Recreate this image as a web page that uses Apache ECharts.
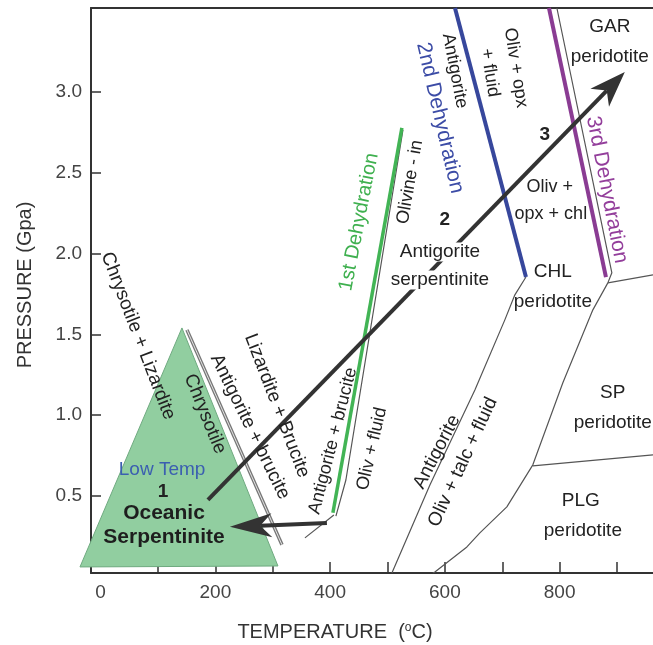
<!DOCTYPE html>
<html>
<head>
<meta charset="utf-8">
<script src="https://cdn.jsdelivr.net/npm/echarts@6/dist/echarts.min.js"></script>
<style>
html, body { margin: 0; padding: 0; background: #fff; }
#main { width: 653px; height: 645px; }
</style>
</head>
<body>
<div id="main"></div>
<script>
// phase boundaries, points are [temperature (C), pressure (GPa)]
var triangle = [[-35.9, 0.061], [141.8, 1.540], [309.1, 0.067]];
var chrysotileEdge = [[150.5, 1.528], [316.1, 0.198]];
var bruciteEdge = [[356.1, 0.241], [406.6, 0.383]];
var firstDehyd = [[404.9, 0.396], [525.1, 2.778]];
var olivineIn = [[410.1, 0.376], [427.5, 0.599], [526.9, 2.765]];
var secondDehyd = [[617.6, 3.52], [741.3, 1.855]];
var thirdDehyd = [[781.4, 3.52], [880.7, 1.855]];
var garEdge = [[795.2, 3.52], [891.0, 1.881], [884.0, 1.819]];
var spTop = [[884.0, 1.819], [962.7, 1.869]];
var plgCurve = [[884.0, 1.819], [857.9, 1.652], [805.6, 1.201], [753.3, 0.693], [708.0, 0.433],
                [661.0, 0.272], [638.4, 0.185], [582.6, 0.030], [579.0, 0.0235]];
var spPlg = [[753.3, 0.687], [962.7, 0.755]];
var talcLine = [[507.7, 0.0235], [573.9, 0.568], [652.3, 1.156], [704.5, 1.590], [722.0, 1.745], [741.3, 1.855]];

// arrows [T1, P1, T2, P2]
var arrows = [[187.1, 0.476, 913.6, 3.124], [394.4, 0.333, 225.4, 0.309]];

// annotations [text, T, P]
var labels = [
  ['Chrysotile + Lizardite', 65.3, 1.490],
  ['Chrysotile', 181.9, 1.008],
  ['Antigorite + brucite', 260.3, 0.928],
  ['Lizardite + Brucite', 307.3, 1.058],
  ['Antigorite + brucite', 404.9, 0.842],
  ['Oliv + fluid', 472.8, 0.792],
  ['1st Dehydration', 450.3, 2.196],
  ['Olivine - in', 539.2, 2.443],
  ['2', 600.0, 2.208],
  ['Antigorite', 591.3, 2.010],
  ['serpentinite', 591.3, 1.837],
  ['Antigorite', 617.4, 3.131],
  ['2nd Dehydration', 591.3, 2.840],
  ['Oliv + opx', 723.7, 3.150],
  ['+ fluid', 678.4, 3.119],
  ['3', 774.2, 2.735],
  ['Oliv +', 782.9, 2.414],
  ['opx + chl', 784.7, 2.247],
  ['3rd Dehydration', 882.2, 2.395],
  ['GAR', 887.5, 3.404],
  ['peridotite', 887.5, 3.218],
  ['CHL', 788.2, 1.886],
  ['peridotite', 788.2, 1.701],
  ['SP', 892.6, 1.138],
  ['peridotite', 892.6, 0.952],
  ['PLG', 837.0, 0.469],
  ['peridotite', 840.5, 0.284],
  ['Antigorite', 586.1, 0.773],
  ['Oliv + talc + fluid', 631.4, 0.710],
  ['Low Temp', 107.1, 0.660],
  ['1', 108.9, 0.525],
  ['Oceanic', 110.5, 0.395],
  ['Serpentinite', 110.5, 0.247]
];
// rotation (deg) and look for each annotation
var labelFmt = [
  [-69, 'n'], [-68, 'n'], [-64, 'n'], [-69, 'n'], [75.5, 's'], [77, 's'], [79, 'green'], [80, 's'],
  [0, 'b'], [0, 'w'], [0, 'w'], [-79, 's'], [-77, 'blue'], [-81, 's'], [-81, 's'], [0, 'b'],
  [0, 's'], [0, 's'], [-79, 'purple'], [0, 'n'], [0, 'n'], [0, 'n'], [0, 'n'], [0, 'n'], [0, 'n'],
  [0, 'n'], [0, 'n'], [62.5, 'n'], [65, 'n'], [0, 'low'], [0, 'b'], [0, 'big'], [0, 'big']
];

var FONT = '"Liberation Sans", Arial, Helvetica, sans-serif';
var looks = {
  n: { color: '#222', size: 19 },
  s: { color: '#222', size: 18 },
  b: { color: '#222', size: 19, weight: 'bold' },
  big: { color: '#1e1e1e', size: 21, weight: 'bold' },
  w: { color: '#222', size: 19, bg: '#fff' },
  green: { color: '#3fb04f', size: 20 },
  blue: { color: '#3c4ca6', size: 21 },
  purple: { color: '#933e9b', size: 21 },
  low: { color: '#3b5fb0', size: 19 }
};

var dom = document.getElementById('main');
var chart = echarts.init(dom);

function lineSeries(data, color, width, z) {
  return {
    type: 'line', data: data, symbol: 'none', silent: true, z: z || 2,
    lineStyle: { color: color, width: width }, animation: false
  };
}

var option = {
  animation: false,
  backgroundColor: '#fff',
  grid: { left: 91, right: 0, top: 8, bottom: 72, outerBoundsMode: 'none' },
  xAxis: [{
    type: 'value', min: -16.7, max: 962.7, position: 'bottom',
    axisLine: { onZero: false, lineStyle: { color: '#333', width: 2 } },
    axisTick: { inside: true, length: 11, customValues: [100, 200, 300, 400, 500, 600, 700, 800, 900],
      lineStyle: { color: '#333', width: 1.5 } },
    axisLabel: { customValues: [0, 200, 400, 600, 800], color: '#444', fontSize: 19, margin: 10, fontFamily: FONT },
    splitLine: { show: false }
  }, {
    type: 'value', min: -16.7, max: 962.7, position: 'top',
    axisLine: { show: true, onZero: false, lineStyle: { color: '#333', width: 2 } },
    axisTick: { show: false }, axisLabel: { show: false }, splitLine: { show: false }
  }],
  yAxis: {
    type: 'value', min: 0.0235, max: 3.52,
    axisLine: { show: true, onZero: false, lineStyle: { color: '#333', width: 2 } },
    axisTick: { inside: true, length: 10, customValues: [0.5, 1, 1.5, 2, 2.5, 3],
      lineStyle: { color: '#333', width: 1.5 } },
    axisLabel: { customValues: [0.5, 1, 1.5, 2, 2.5, 3], color: '#444', fontSize: 19, margin: 9, fontFamily: FONT,
      formatter: function (v) { return v.toFixed(1); } },
    splitLine: { show: false }
  },
  graphic: [{
    type: 'text', x: 25, y: 285, rotation: Math.PI / 2,
    style: { text: 'PRESSURE (Gpa)', fill: '#333', fontSize: 20, fontFamily: FONT, align: 'center', verticalAlign: 'middle' }
  }, {
    type: 'text', x: 335, y: 632,
    style: {
      text: 'TEMPERATURE  ({s|o}C)', fill: '#333', fontSize: 20, fontFamily: FONT, align: 'center', verticalAlign: 'middle',
      rich: { s: { fontSize: 12, fill: '#333', fontFamily: FONT, verticalAlign: 'top', padding: [0, 0, 8, 0] } }
    }
  }],
  series: [
    {
      type: 'custom', z: 1, silent: true, clip: false,
      data: [[0, 0]],
      renderItem: function (params, api) {
        return {
          type: 'polygon',
          shape: { points: triangle.map(function (p) { return api.coord(p); }) },
          style: { fill: '#91cea0', stroke: '#6faa80', lineWidth: 1 }
        };
      }
    },
    lineSeries(chrysotileEdge, '#777', 3.5),
    lineSeries(chrysotileEdge, '#fff', 0.8),
    lineSeries(bruciteEdge, '#555', 1.2),
    lineSeries(olivineIn, '#555', 1.2),
    lineSeries(firstDehyd, '#42b455', 3.5),
    lineSeries(talcLine, '#555', 1.2),
    lineSeries(plgCurve, '#555', 1.2),
    lineSeries(spPlg, '#555', 1.2),
    lineSeries(spTop, '#555', 1.2),
    lineSeries(garEdge, '#555', 1.2),
    lineSeries(secondDehyd, '#37479c', 4),
    lineSeries(thirdDehyd, '#8a3c93', 4),
    {
      type: 'custom', z: 3, silent: true, clip: false,
      data: arrows,
      encode: { x: [0, 2], y: [1, 3] },
      renderItem: function (params, api) {
        var a = api.coord([api.value(0), api.value(1)]);
        var b = api.coord([api.value(2), api.value(3)]);
        var dx = b[0] - a[0], dy = b[1] - a[1];
        var len = Math.sqrt(dx * dx + dy * dy), ux = dx / len, uy = dy / len;
        var hl = params.dataIndex === 0 ? 36 : 42, hw = params.dataIndex === 0 ? 13 : 12;
        var back = [b[0] - ux * hl, b[1] - uy * hl];
        var notch = [b[0] - ux * hl * 0.72, b[1] - uy * hl * 0.72];
        var left = [back[0] - uy * hw, back[1] + ux * hw];
        var right = [back[0] + uy * hw, back[1] - ux * hw];
        return {
          type: 'group',
          children: [
            { type: 'line', shape: { x1: a[0], y1: a[1], x2: notch[0], y2: notch[1] },
              style: { stroke: '#333', lineWidth: 4 } },
            { type: 'polygon', shape: { points: [b, left, notch, right] }, style: { fill: '#333' } }
          ]
        };
      }
    },
    {
      type: 'custom', z: 4, silent: true, clip: false,
      data: labels.map(function (l, i) { return [l[1], l[2], i]; }),
      encode: { x: 0, y: 1 },
      renderItem: function (params, api) {
        var i = api.value(2);
        var p = api.coord([api.value(0), api.value(1)]);
        var f = labelFmt[i], k = looks[f[1]];
        return {
          type: 'text', x: p[0], y: p[1], rotation: f[0] * Math.PI / 180,
          style: {
            text: labels[i][0], fill: k.color, fontSize: k.size, fontWeight: k.weight || 'normal',
            fontFamily: FONT, align: 'center', verticalAlign: 'middle',
            backgroundColor: k.bg || null, padding: k.bg ? [0, 1] : 0
          }
        };
      }
    }
  ]
};
chart.setOption(option);
</script>
</body>
</html>
